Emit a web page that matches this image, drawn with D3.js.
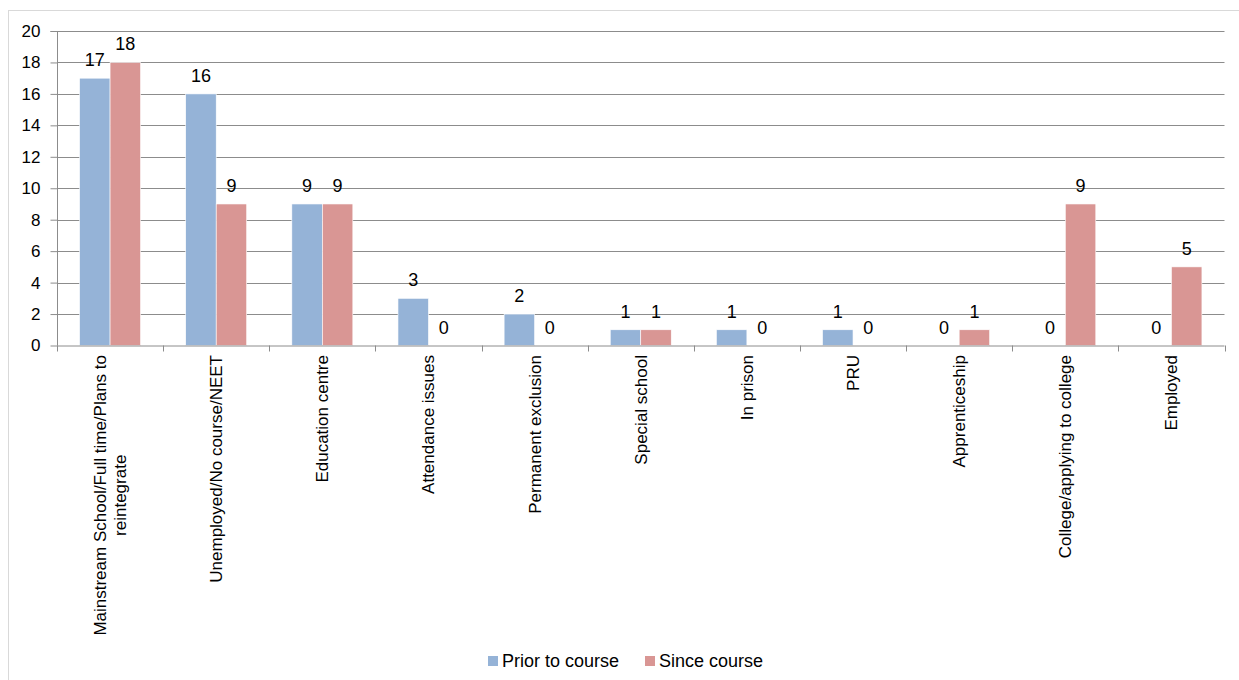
<!DOCTYPE html>
<html><head><meta charset="utf-8">
<script src="https://cdn.jsdelivr.net/npm/d3@7"></script>
<style>body{margin:0;background:#fff;}svg text{font-family:"Liberation Sans",Arial,sans-serif;fill:#000;}</style>
</head><body>
<svg id="c" width="1239" height="680"></svg>
<script>
const categories = [
  ["Mainstream School/Full time/Plans to","reintegrate"],
  ["Unemployed/No course/NEET"],
  ["Education centre"],
  ["Attendance issues"],
  ["Permanent exclusion"],
  ["Special school"],
  ["In prison"],
  ["PRU"],
  ["Apprenticeship"],
  ["College/applying to college"],
  ["Employed"]
];
const priorValues = [17,16,9,3,2,1,1,1,0,0,0];
const sinceValues = [18,9,9,0,0,1,0,0,1,9,5];
const seriesNames = ["Prior to course","Since course"];
const seriesColors = ["#95b3d7","#d99694"];
const yTicks = [0,2,4,6,8,10,12,14,16,18,20];

const svg = d3.select("#c");
const L = 57, R = 1224.5, T = 31, B = 345.5;

svg.append("rect").attr("x",8.5).attr("y",10.5).attr("width",1240).attr("height",680)
  .attr("fill","#fff").attr("stroke","#d9d9d9");

const x = d3.scaleBand().domain(d3.range(categories.length)).range([L,R]).paddingInner(0).paddingOuter(0);
const y = d3.scaleLinear().domain([0,20]).range([B,T]);
const x1 = d3.scaleBand().domain([0,1]).range([0,x.bandwidth()]).paddingInner(0).paddingOuter(0.74);

// gridlines
svg.append("g").selectAll("line").data(yTicks.filter(d=>d>0)).join("line")
  .attr("x1",L).attr("x2",R).attr("y1",d=>Math.round(y(d))+0.5).attr("y2",d=>Math.round(y(d))+0.5)
  .attr("stroke","#8c8c8c").attr("stroke-width",1);

// y axis
const ya = svg.append("g").attr("transform",`translate(${L+0.5},0)`)
  .call(d3.axisLeft(y).tickValues(yTicks).tickSize(7).tickPadding(10).tickFormat(d3.format("d")));
ya.select(".domain").attr("stroke","#8c8c8c").attr("d",`M-7,${T+0.5}H0V${B}`);
ya.selectAll(".tick line").attr("stroke","#8c8c8c");
ya.selectAll(".tick text").attr("font-size","17px").attr("font-family","Liberation Sans, Arial, sans-serif").attr("fill","#000");

// bars
const series = [priorValues, sinceValues];
series.forEach((vals,si)=>{
  svg.append("g").selectAll("rect").data(vals).join("rect")
    .attr("x",(d,i)=>x(i)+x1(si)).attr("width",x1.bandwidth())
    .attr("y",d=>y(d)).attr("height",d=>B-y(d))
    .attr("fill",seriesColors[si]).attr("stroke","#fff").attr("stroke-width",0.6);
  svg.append("g").selectAll("text").data(vals).join("text")
    .attr("x",(d,i)=>x(i)+x1(si)+x1.bandwidth()/2).attr("y",d=>y(d)-12)
    .attr("text-anchor","middle").attr("font-size","18px").text(d=>d);
});

// x axis
const xa = svg.append("g").attr("transform",`translate(0,${B})`);
xa.append("line").attr("x1",L).attr("x2",R).attr("y1",0.5).attr("y2",0.5).attr("stroke","#8c8c8c");
xa.selectAll("line.tk").data(d3.range(categories.length+1)).join("line").attr("class","tk")
  .attr("x1",i=>Math.round(L+i*x.bandwidth())+0.5).attr("x2",i=>Math.round(L+i*x.bandwidth())+0.5)
  .attr("y1",0).attr("y2",6).attr("stroke","#8c8c8c");

// category labels (rotated)
categories.forEach((lines,i)=>{
  const cx = x(i)+x.bandwidth()/2;
  const n = lines.length, lh = 20;
  const g = svg.append("g").attr("transform",`translate(${cx},355) rotate(-90)`);
  const texts = lines.map((ln,k)=>g.append("text").attr("font-size","17px")
    .attr("y",(k-(n-1)/2)*lh+6).text(ln));
  const widths = texts.map(t=>t.node().getComputedTextLength());
  const maxW = d3.max(widths);
  texts.forEach((t,k)=>t.attr("x",-maxW/2).attr("text-anchor","middle"));
});

// legend
const lg = svg.append("g");
const legendX = [488, 645];
seriesNames.forEach((nm,si)=>{
  lg.append("rect").attr("x",legendX[si]).attr("y",656).attr("width",10).attr("height",10).attr("fill",seriesColors[si]);
  lg.append("text").attr("x",legendX[si]+14).attr("y",667).attr("font-size","18px").text(nm);
});
</script>
</body></html>
